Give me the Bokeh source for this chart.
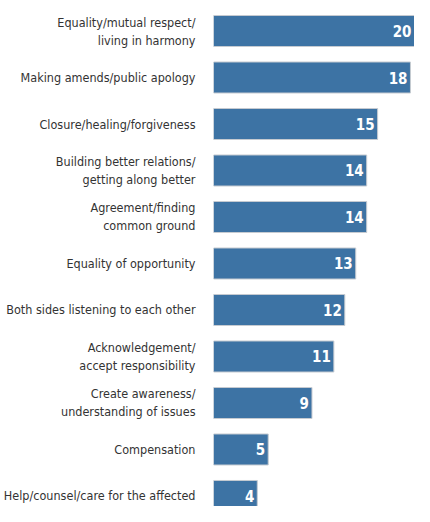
from bokeh.plotting import figure
from bokeh.models import Range1d, FixedTicker, ColumnDataSource
from bokeh.core.properties import value
from bokeh.embed import file_html
from bokeh.resources import INLINE

categories = [
    "Equality/mutual respect/\nliving in harmony",
    "Making amends/public apology",
    "Closure/healing/forgiveness",
    "Building better relations/\ngetting along better",
    "Agreement/finding\ncommon ground",
    "Equality of opportunity",
    "Both sides listening to each other",
    "Acknowledgement/\naccept responsibility",
    "Create awareness/\nunderstanding of issues",
    "Compensation",
    "Help/counsel/care for the affected",
]
values = [20, 18, 15, 14, 14, 13, 12, 11, 9, 5, 4]

FONT = "'DejaVu Sans Condensed', Roboto, sans-serif"
X_END = 18.37

idx = list(range(len(categories)))
src = ColumnDataSource(dict(y=idx, v=values,
                            lx=[min(v, X_END) for v in values],
                            lbl=[str(v) for v in values]))

p = figure(width=414, height=506, output_backend="svg", toolbar_location=None,
           x_range=Range1d(0, X_END), y_range=Range1d(10.226, -0.656),
           min_border_left=213, min_border_right=0, min_border_top=0, min_border_bottom=0)

p.hbar(y="y", left=0, right="v", height=0.667, source=src,
       fill_color="#3d73a4", line_color="#c6cbd1", line_width=1)
p.text(x="lx", y="y", text="lbl", source=src, x_offset=-3,
       text_align="right", text_baseline="middle", text_color="white",
       text_font=value(FONT), text_font_style="bold",
       text_font_size="15px")

p.xaxis.visible = False
yax = p.yaxis[0]
yax.ticker = FixedTicker(ticks=idx)
yax.major_label_overrides = {i: c for i, c in zip(idx, categories)}
yax.axis_line_color = None
yax.major_tick_line_color = None
yax.minor_tick_line_color = None
yax.major_label_standoff = 12
yax.major_label_text_font = FONT
yax.major_label_text_font_size = "12.5px"
yax.major_label_text_color = "#333333"

p.grid.visible = False
p.outline_line_color = None
p.background_fill_color = "white"
p.border_fill_color = "white"

open("out.html", "w").write(file_html(p, INLINE))
